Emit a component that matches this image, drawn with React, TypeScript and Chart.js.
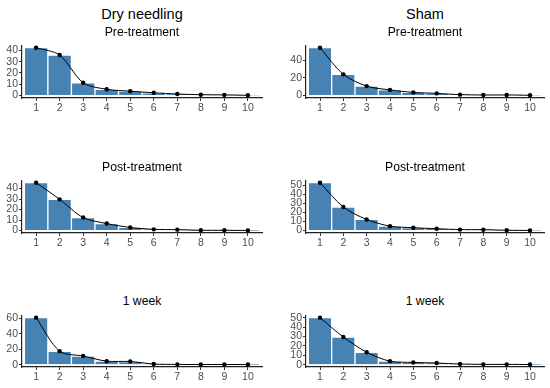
import React, { useEffect, useRef } from "react";
import { Chart, registerables } from "chart.js";

Chart.register(...registerables);

const categories = [1, 2, 3, 4, 5, 6, 7, 8, 9, 10];

const dnPre = [42.3, 35.8, 11.3, 5.6, 3.9, 2.5, 1.4, 0.8, 0.6, 0.3];
const shamPre = [53.9, 23.9, 10.7, 6.4, 3.6, 2.5, 1.1, 0.7, 0.7, 0.4];
const dnPost = [45.5, 29.7, 12.4, 6.7, 3.0, 1.2, 0.9, 0.3, 0.3, 0.1];
const shamPost = [52.8, 26.0, 12.3, 4.9, 3.2, 2.1, 1.1, 1.0, 0.4, 0.2];
const dn1w = [61.0, 17.4, 11.2, 4.5, 4.1, 0.8, 0.3, 0.2, 0.2, 0.1];
const sham1w = [50.0, 29.4, 13.2, 3.7, 2.4, 1.7, 0.7, 0.3, 0.3, 0.1];

const ticksDnPre = [0, 10, 20, 30, 40];
const ticksShamPre = [0, 20, 40];
const ticksDnPost = [0, 10, 20, 30, 40];
const ticksShamPost = [0, 10, 20, 30, 40, 50];
const ticksDn1w = [0, 20, 40, 60];
const ticksSham1w = [0, 10, 20, 30, 40, 50];

const groupTitles = ["Dry needling", "Sham"];
const timeTitles = ["Pre-treatment", "Post-treatment", "1 week"];

const FONT = "'Liberation Sans', Arial, sans-serif";

const cols = [
  { left: 0, axisX: 22, right: 262 },
  { left: 275, axisX: 306, right: 544 },
];
const rows = [
  { plotTop: 44, axisY: 98, subY: 32 },
  { plotTop: 179, axisY: 233, subY: 167 },
  { plotTop: 314, axisY: 367, subY: 301 },
];

const panels = [
  { col: 0, row: 0, values: dnPre, ticks: ticksDnPre },
  { col: 1, row: 0, values: shamPre, ticks: ticksShamPre },
  { col: 0, row: 1, values: dnPost, ticks: ticksDnPost },
  { col: 1, row: 1, values: shamPost, ticks: ticksShamPost },
  { col: 0, row: 2, values: dn1w, ticks: ticksDn1w },
  { col: 1, row: 2, values: sham1w, ticks: ticksSham1w },
];

const PAD_TOP = 6;
const XAXIS_H = 20;

function Panel({ p }: { p: any }) {
  const ref = useRef<HTMLCanvasElement | null>(null);
  const c = cols[p.col];
  const r = rows[p.row];
  const w = 275;
  const h = r.axisY - r.plotTop + PAD_TOP + XAXIS_H;
  useEffect(() => {
    if (!ref.current) return;
    const pts = categories.map((x, i) => ({ x, y: p.values[i] }));
    const top = Math.max(...p.values);
    const chart = new Chart(ref.current, {
      type: "bar",
      data: {
        datasets: [
          {
            type: "line",
            data: pts,
            borderColor: "#000",
            borderWidth: 1,
            pointRadius: 2.2,
            pointBackgroundColor: "#000",
            pointBorderWidth: 0,
            tension: 0.3,
            order: 0,
            clip: false,
          } as any,
          {
            type: "bar",
            data: pts,
            backgroundColor: "#4682B4",
            borderColor: "#ffffff",
            borderWidth: 1,
            barPercentage: 1,
            categoryPercentage: 1,
            order: 1,
          } as any,
        ],
      },
      options: {
        responsive: false,
        animation: false,
        devicePixelRatio: 1,
        plugins: { legend: { display: false }, tooltip: { enabled: false } },
        layout: {
          padding: { top: PAD_TOP, left: 0, right: c.left + w - c.right, bottom: 0 },
        },
        scales: {
          x: {
            type: "linear",
            offset: false,
            min: 0.4,
            max: 10.6,
            afterBuildTicks: (s: any) => {
              s.ticks = categories.map((v) => ({ value: v }));
            },
            afterFit: (s: any) => {
              s.height = XAXIS_H;
            },
            grid: { offset: false, drawOnChartArea: false, drawTicks: true, tickLength: 3, color: "#333" },
            border: { display: true, color: "#222", width: 1.2 },
            ticks: { autoSkip: false, padding: 1, color: "#4d4d4d", font: { family: FONT, size: 10.5 }, maxRotation: 0 },
          },
          y: {
            type: "linear",
            min: -0.05 * top,
            max: 1.05 * top,
            afterBuildTicks: (s: any) => {
              s.ticks = p.ticks.map((v: number) => ({ value: v }));
            },
            afterFit: (s: any) => {
              s.width = c.axisX - c.left;
            },
            grid: { drawOnChartArea: false, drawTicks: true, tickLength: 3, color: "#333" },
            border: { display: true, color: "#222", width: 1.2 },
            ticks: { autoSkip: false, padding: 1, color: "#4d4d4d", font: { family: FONT, size: 10.5 } },
          },
        },
      } as any,
    });
    return () => chart.destroy();
  }, []);
  return (
    <canvas
      ref={ref}
      width={w}
      height={h}
      style={{ position: "absolute", left: c.left, top: r.plotTop - PAD_TOP, width: w, height: h }}
    />
  );
}

export default function App() {
  const textStyle = (x: number, y: number, size: number): React.CSSProperties => ({
    position: "absolute",
    left: x,
    top: y,
    transform: "translate(-50%, -50%)",
    fontFamily: FONT,
    fontSize: size,
    color: "#000",
    whiteSpace: "nowrap",
    lineHeight: 1,
  });
  return (
    <div style={{ position: "absolute", left: 0, top: 0, width: 550, height: 388, background: "#fff" }}>
      {panels.map((p, i) => (
        <Panel key={i} p={p} />
      ))}
      {groupTitles.map((t, i) => (
        <div key={"g" + i} style={textStyle((cols[i].axisX + cols[i].right) / 2, 14, 14.5)}>
          {t}
        </div>
      ))}
      {panels.map((p, i) => (
        <div
          key={"s" + i}
          style={textStyle((cols[p.col].axisX + cols[p.col].right) / 2, rows[p.row].subY, 12.2)}
        >
          {timeTitles[p.row]}
        </div>
      ))}
    </div>
  );
}
